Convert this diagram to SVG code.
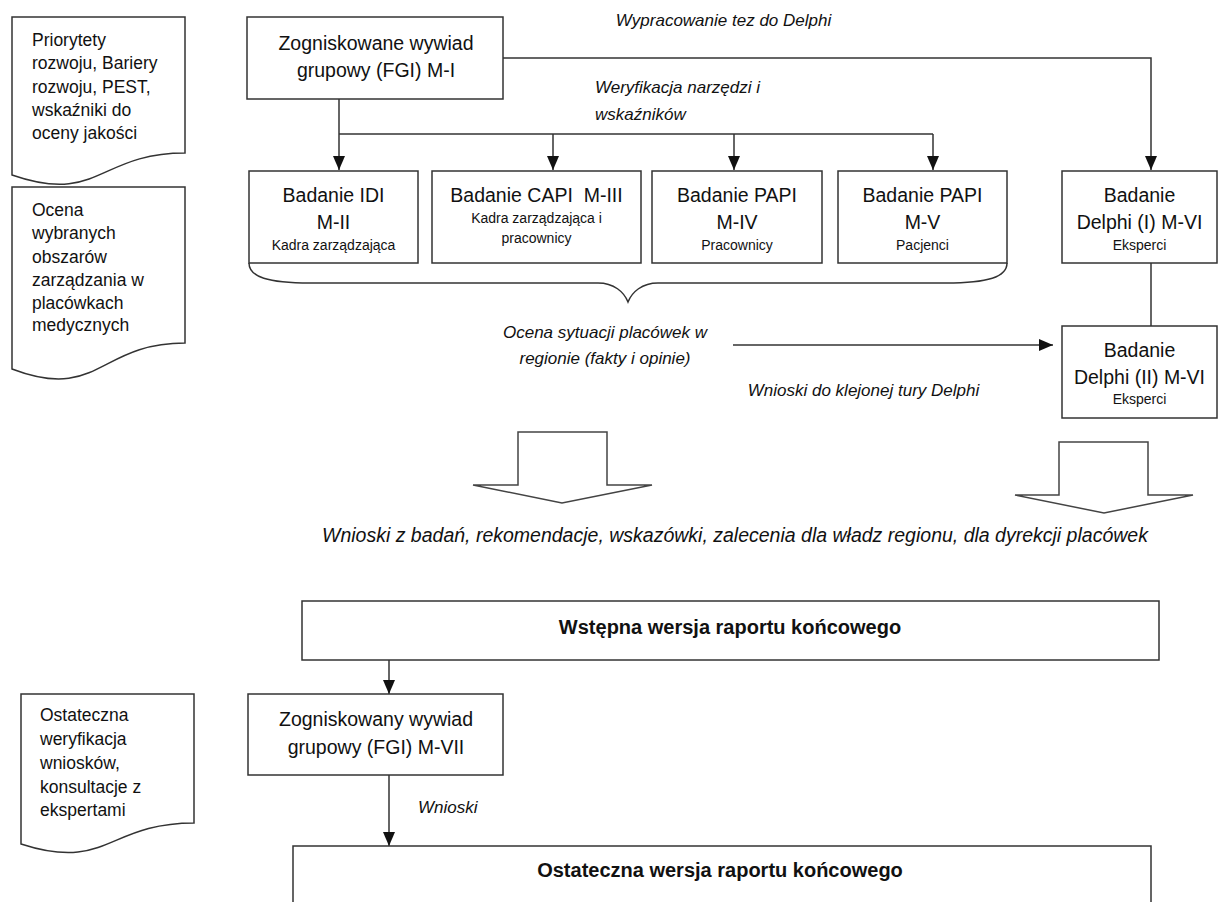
<svg xmlns="http://www.w3.org/2000/svg" width="1219" height="902" viewBox="0 0 1219 902">
<style>
  .box { fill: #ffffff; stroke: #333333; stroke-width: 1.5; }
  .line { fill: none; stroke: #333333; stroke-width: 1.5; }
  .blk { fill: #ffffff; stroke: #444444; stroke-width: 1.5; stroke-linejoin: miter; }
  text { font-family: "Liberation Sans", Arial, sans-serif; fill: #111111; }
  .big { font-size: 19.5px; text-anchor: middle; }
  .sub { font-size: 14px; text-anchor: middle; }
  .doc { font-size: 17.5px; }
  .it { font-size: 17px; font-style: italic; }
  .itc { font-size: 17px; font-style: italic; text-anchor: middle; }
  .bold { font-size: 20px; font-weight: bold; text-anchor: middle; }
</style>
<defs>
  <marker id="arr" markerUnits="userSpaceOnUse" markerWidth="14" markerHeight="12" refX="14" refY="6" orient="auto">
    <path d="M0,0 L14,6 L0,12 Z" fill="#111111"/>
  </marker>
</defs>
<rect x="0" y="0" width="1219" height="902" fill="#ffffff"/>

<g id="connectors">
  <path class="line" d="M503,58 H1151 V170" marker-end="url(#arr)"/>
  <path class="line" d="M339,99 V170" marker-end="url(#arr)"/>
  <path class="line" d="M339,134 H933"/>
  <path class="line" d="M553,134 V170" marker-end="url(#arr)"/>
  <path class="line" d="M734,134 V170" marker-end="url(#arr)"/>
  <path class="line" d="M933,134 V170" marker-end="url(#arr)"/>
  <path class="line" d="M1151,263 V326"/>
  <path class="line" d="M733,345 H1053" marker-end="url(#arr)"/>
  <path class="line" d="M389,660 V694" marker-end="url(#arr)"/>
  <path class="line" d="M389,775 V846" marker-end="url(#arr)"/>
</g>

<g id="doc-priorytety">
  <path class="box" d="M12,17 H185 V153 C98.5,153 98.5,205 12,175 Z"/>
  <text class="doc" x="32" y="46">Priorytety</text>
  <text class="doc" x="32" y="69">rozwoju, Bariery</text>
  <text class="doc" x="32" y="93">rozwoju, PEST,</text>
  <text class="doc" x="32" y="116">wskaźniki do</text>
  <text class="doc" x="32" y="139">oceny jakości</text>
</g>

<g id="doc-ocena">
  <path class="box" d="M12,187 H185 V343 C98.5,343 98.5,402 12,369 Z"/>
  <text class="doc" x="32" y="216">Ocena</text>
  <text class="doc" x="32" y="239">wybranych</text>
  <text class="doc" x="32" y="263">obszarów</text>
  <text class="doc" x="32" y="286">zarządzania w</text>
  <text class="doc" x="32" y="309">placówkach</text>
  <text class="doc" x="32" y="331">medycznych</text>
</g>

<g id="doc-ostateczna">
  <path class="box" d="M21,694 H194 V823 C107.5,823 107.5,872 21,844 Z"/>
  <text class="doc" x="40" y="721">Ostateczna</text>
  <text class="doc" x="40" y="745">weryfikacja</text>
  <text class="doc" x="40" y="769">wniosków,</text>
  <text class="doc" x="40" y="793">konsultacje z</text>
  <text class="doc" x="40" y="816">ekspertami</text>
</g>

<g id="fgi-m1">
  <rect class="box" x="247" y="17" width="256" height="82"/>
  <text class="big" x="376" y="50">Zogniskowane wywiad</text>
  <text class="big" x="376" y="77">grupowy (FGI) M-I</text>
</g>

<g id="idi-m2">
  <rect class="box" x="249" y="171" width="169" height="92"/>
  <text class="big" x="333.5" y="202">Badanie IDI</text>
  <text class="big" x="333.5" y="229">M-II</text>
  <text class="sub" x="333.5" y="250">Kadra zarządzająca</text>
</g>

<g id="capi-m3">
  <rect class="box" x="432" y="171" width="209" height="92"/>
  <text class="big" x="536.5" y="202">Badanie CAPI&#160; M-III</text>
  <text class="sub" x="536.5" y="223">Kadra zarządzająca i</text>
  <text class="sub" x="536.5" y="243">pracownicy</text>
</g>

<g id="papi-m4">
  <rect class="box" x="652" y="171" width="170" height="92"/>
  <text class="big" x="737" y="202">Badanie PAPI</text>
  <text class="big" x="737" y="229">M-IV</text>
  <text class="sub" x="737" y="250">Pracownicy</text>
</g>

<g id="papi-m5">
  <rect class="box" x="838" y="171" width="169" height="92"/>
  <text class="big" x="922.5" y="202">Badanie PAPI</text>
  <text class="big" x="922.5" y="229">M-V</text>
  <text class="sub" x="922.5" y="250">Pacjenci</text>
</g>

<g id="delphi-1">
  <rect class="box" x="1062" y="171" width="155" height="92"/>
  <text class="big" x="1139.5" y="202">Badanie</text>
  <text class="big" x="1139.5" y="229">Delphi (I) M-VI</text>
  <text class="sub" x="1139.5" y="250">Eksperci</text>
</g>

<g id="delphi-2">
  <rect class="box" x="1062" y="326" width="155" height="92"/>
  <text class="big" x="1139.5" y="357">Badanie</text>
  <text class="big" x="1139.5" y="384">Delphi (II) M-VI</text>
  <text class="sub" x="1139.5" y="404">Eksperci</text>
</g>

<g id="brace">
  <path class="line" d="M249,263 C249,277 268,283 310,283 H598 C614,283 624,292 628,302 C632,292 642,283 658,283 H946 C988,283 1007,277 1007,263"/>
</g>

<g id="block-arrow-left">
  <path class="blk" d="M518,432 H607 V485 H652 L562,503 L473,485 H518 Z"/>
</g>
<g id="block-arrow-right">
  <path class="blk" d="M1059,442 H1148 V495 H1193 L1104,513 L1015,495 H1059 Z"/>
</g>

<g id="wstepna">
  <rect class="box" x="302" y="601" width="857" height="59"/>
  <text class="bold" x="730" y="634">Wstępna wersja raportu końcowego</text>
</g>

<g id="fgi-m7">
  <rect class="box" x="248" y="694" width="255" height="81"/>
  <text class="big" x="376" y="726">Zogniskowany wywiad</text>
  <text class="big" x="376" y="754">grupowy (FGI) M-VII</text>
</g>

<g id="ostateczna">
  <rect class="box" x="293" y="846" width="858" height="70"/>
  <text class="bold" x="720" y="877">Ostateczna wersja raportu końcowego</text>
</g>

<g id="labels">
  <text class="itc" x="723.5" y="26">Wypracowanie tez do Delphi</text>
  <text class="it" x="595" y="93">Weryfikacja narzędzi i</text>
  <text class="it" x="595" y="120">wskaźników</text>
  <text class="itc" x="605" y="338">Ocena sytuacji placówek w</text>
  <text class="itc" x="605" y="364">regionie (fakty i opinie)</text>
  <text class="itc" x="863.5" y="396">Wnioski do klejonej tury Delphi</text>
  <text class="it" x="322" y="542" style="font-size:19.5px">Wnioski z badań, rekomendacje, wskazówki, zalecenia dla władz regionu, dla dyrekcji placówek</text>
  <text class="it" x="418" y="813">Wnioski</text>
</g>
</svg>
